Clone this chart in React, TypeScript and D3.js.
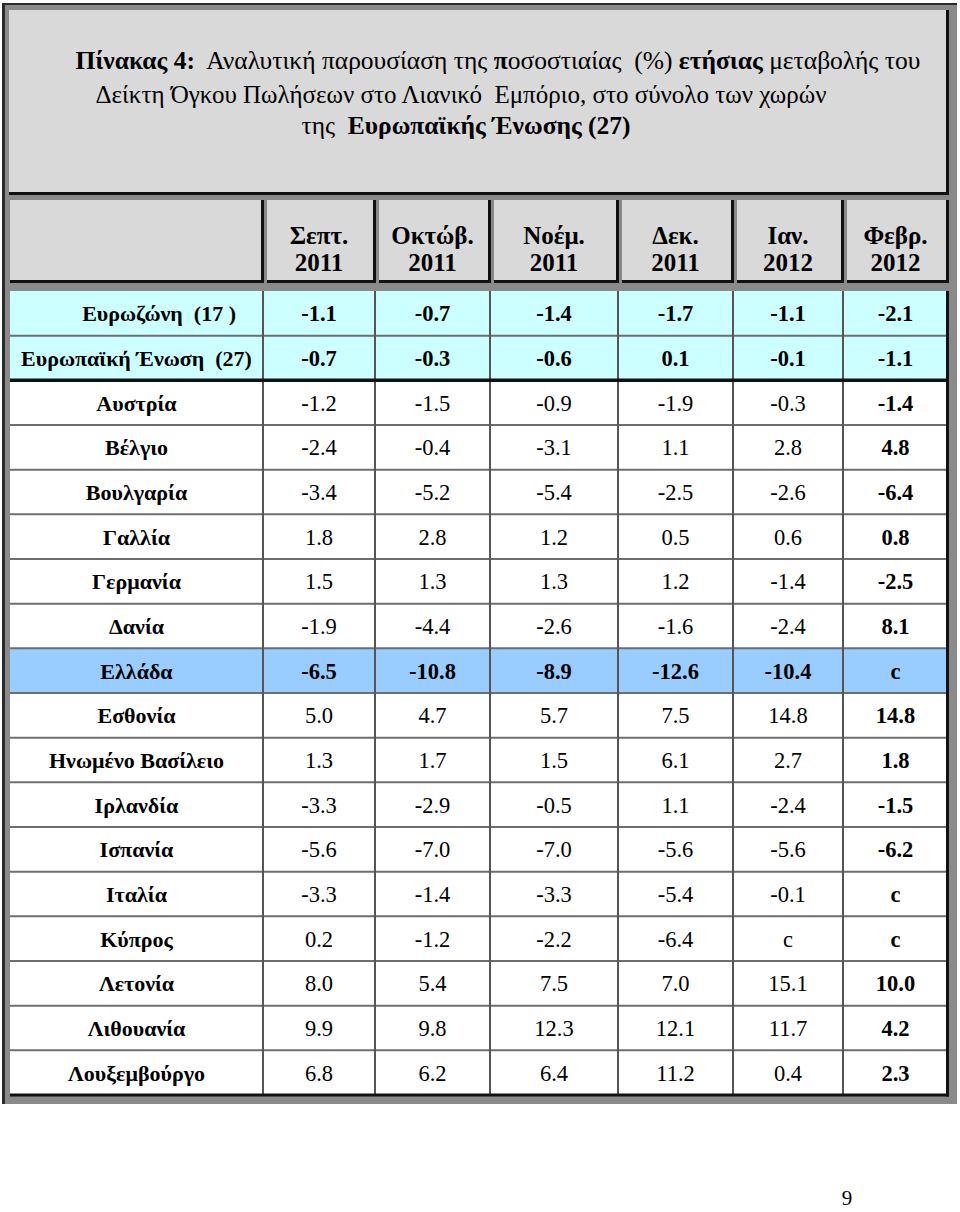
import React from 'react';
import * as d3 from 'd3';

const width = 960;
const height = 1212;

// data
const countries = [
  'Ευρωζώνη  (17 )', 'Ευρωπαϊκή Ένωση  (27)', 'Αυστρία', 'Βέλγιο', 'Βουλγαρία', 'Γαλλία',
  'Γερμανία', 'Δανία', 'Ελλάδα', 'Εσθονία', 'Ηνωμένο Βασίλειο', 'Ιρλανδία', 'Ισπανία',
  'Ιταλία', 'Κύπρος', 'Λετονία', 'Λιθουανία', 'Λουξεμβούργο',
];
const months = ['Σεπτ.', 'Οκτώβ.', 'Νοέμ.', 'Δεκ.', 'Ιαν.', 'Φεβρ.'];
const years = ['2011', '2011', '2011', '2011', '2012', '2012'];

// null = c (confidential)
const sep2011 = [-1.1, -0.7, -1.2, -2.4, -3.4, 1.8, 1.5, -1.9, -6.5, 5.0, 1.3, -3.3, -5.6, -3.3, 0.2, 8.0, 9.9, 6.8];
const oct2011 = [-0.7, -0.3, -1.5, -0.4, -5.2, 2.8, 1.3, -4.4, -10.8, 4.7, 1.7, -2.9, -7.0, -1.4, -1.2, 5.4, 9.8, 6.2];
const nov2011 = [-1.4, -0.6, -0.9, -3.1, -5.4, 1.2, 1.3, -2.6, -8.9, 5.7, 1.5, -0.5, -7.0, -3.3, -2.2, 7.5, 12.3, 6.4];
const dec2011 = [-1.7, 0.1, -1.9, 1.1, -2.5, 0.5, 1.2, -1.6, -12.6, 7.5, 6.1, 1.1, -5.6, -5.4, -6.4, 7.0, 12.1, 11.2];
const jan2012 = [-1.1, -0.1, -0.3, 2.8, -2.6, 0.6, -1.4, -2.4, -10.4, 14.8, 2.7, -2.4, -5.6, -0.1, null, 15.1, 11.7, 0.4];
const feb2012 = [-2.1, -1.1, -1.4, 4.8, -6.4, 0.8, -2.5, 8.1, null, 14.8, 1.8, -1.5, -6.2, null, null, 10.0, 4.2, 2.3];

const series = [sep2011, oct2011, nov2011, dec2011, jan2012, feb2012];

const aggregates = ['Ευρωζώνη  (17 )', 'Ευρωπαϊκή Ένωση  (27)'];
const highlight = 'Ελλάδα';

// layout
const colEdges = [10, 263, 375, 490, 618, 733, 843, 948];
const dataTop = 291;
const dataBottom = 1095;
const headTop = 200;
const headBottom = 283;

const font = '"Liberation Serif"';
const fmt = d3.formatLocale({ decimal: '.', thousands: ',', grouping: [3], currency: ['', ''], minus: '-' }).format('.1f');

const App = () => {
  const yScale = d3.scaleBand<string>().domain(countries).range([dataTop, dataBottom]);
  const xScale = d3.scaleOrdinal<string, number>()
    .domain(months)
    .range(months.map((m, i) => (colEdges[i + 1] + colEdges[i + 2]) / 2));
  const labelX = (colEdges[0] + colEdges[1]) / 2;
  const bw = yScale.bandwidth();

  const rowFill = (c: string) =>
    c === highlight ? '#99ccff' : aggregates.includes(c) ? '#ccffff' : '#ffffff';

  return (
    <svg width={width} height={height} style={{ position: 'absolute', left: 0, top: 0 }}>
      <rect x={0} y={0} width={width} height={height} fill="#ffffff" />

      {/* outer frame */}
      <rect x={2} y={3} width={955} height={1101} fill="#8a8a8a" />
      <line x1={2} x2={957} y1={4} y2={4} stroke="#2a2a2a" strokeWidth={2} />
      <line x1={3.5} x2={3.5} y1={3} y2={1104} stroke="#2a2a2a" strokeWidth={3} />

      {/* title cell */}
      <rect x={9} y={10} width={940} height={185} fill="#111" />
      <rect x={9} y={10} width={937} height={182} fill="#d9d9d9" />
      <text x={498} y={69} textAnchor="middle" fontFamily={font} fontSize={25.5} style={{ whiteSpace: 'pre' }}>
        <tspan fontWeight="bold">Πίνακας 4:</tspan>
        <tspan>{'  Αναλυτική παρουσίαση της '}</tspan>
        <tspan fontWeight="bold">π</tspan>
        <tspan>{'οσοστιαίας  (%) '}</tspan>
        <tspan fontWeight="bold">ετήσιας</tspan>
        <tspan>{' μεταβολής του'}</tspan>
      </text>
      <text x={461} y={103} textAnchor="middle" fontFamily={font} fontSize={25} style={{ whiteSpace: 'pre' }}>
        Δείκτη Όγκου Πωλήσεων στο Λιανικό  Εμπόριο, στο σύνολο των χωρών
      </text>
      <text x={466} y={134} textAnchor="middle" fontFamily={font} fontSize={25.5} style={{ whiteSpace: 'pre' }}>
        <tspan>{'της  '}</tspan>
        <tspan fontWeight="bold">Ευρωπαϊκής Ένωσης (27)</tspan>
      </text>

      {/* header cells */}
      {colEdges.slice(0, -1).map((x0, i) => {
        const xs = i === 0 ? x0 : x0 + 4;
        const w = colEdges[i + 1] - xs + 1;
        return (
          <g key={i}>
            <rect x={xs} y={headTop} width={w} height={headBottom - headTop} fill="#111" />
            <rect x={xs} y={headTop} width={w - 3} height={headBottom - headTop - 3} fill="#d9d9d9" />
          </g>
        );
      })}
      {months.map((m, i) => (
        <text key={m} x={xScale(m)} textAnchor="middle" fontFamily={font} fontWeight="bold" fontSize={25}>
          <tspan x={xScale(m)} y={244}>{m}</tspan>
          <tspan x={xScale(m)} y={271}>{years[i]}</tspan>
        </text>
      ))}

      {/* data area */}
      {countries.map(c => (
        <rect key={c} x={colEdges[0]} y={yScale(c)} width={colEdges[7] - colEdges[0]} height={bw} fill={rowFill(c)} />
      ))}
      {countries.slice(1).map(c => (
        <line key={c} x1={colEdges[0]} x2={colEdges[7]} y1={yScale(c)} y2={yScale(c)} stroke="#6e6e6e" strokeWidth={2} />
      ))}
      {colEdges.slice(1, -1).map(x => (
        <line key={x} x1={x} x2={x} y1={dataTop} y2={dataBottom} stroke="#555" strokeWidth={2} />
      ))}
      <line x1={colEdges[0]} x2={colEdges[7]} y1={yScale(countries[2])} y2={yScale(countries[2])} stroke="#111" strokeWidth={3.5} />
      <line x1={colEdges[0]} x2={colEdges[7] + 1} y1={dataBottom} y2={dataBottom} stroke="#111" strokeWidth={3} />
      <line x1={colEdges[7] - 0.5} x2={colEdges[7] - 0.5} y1={dataTop} y2={dataBottom + 1.5} stroke="#111" strokeWidth={3} />

      {/* row labels */}
      {countries.map((c, r) => (
        <text
          key={c}
          x={r === 0 ? 236 : labelX}
          y={(yScale(c) ?? 0) + bw / 2 + 8}
          textAnchor={r === 0 ? 'end' : 'middle'}
          fontFamily={font}
          fontWeight="bold"
          fontSize={22}
          style={{ whiteSpace: 'pre' }}
        >
          {c}
        </text>
      ))}

      {/* values */}
      {series.map((s, i) =>
        s.map((v, r) => {
          const c = countries[r];
          const bold = i === 5 || aggregates.includes(c) || c === highlight;
          return (
            <text
              key={`${i}-${r}`}
              x={xScale(months[i])}
              y={(yScale(c) ?? 0) + bw / 2 + 8}
              textAnchor="middle"
              fontFamily={font}
              fontWeight={bold ? 'bold' : 'normal'}
              fontSize={22.5}
            >
              {v === null ? 'c' : fmt(v)}
            </text>
          );
        })
      )}

      <text x={847} y={1205} textAnchor="middle" fontFamily={font} fontSize={21}>9</text>
    </svg>
  );
};

export default App;
